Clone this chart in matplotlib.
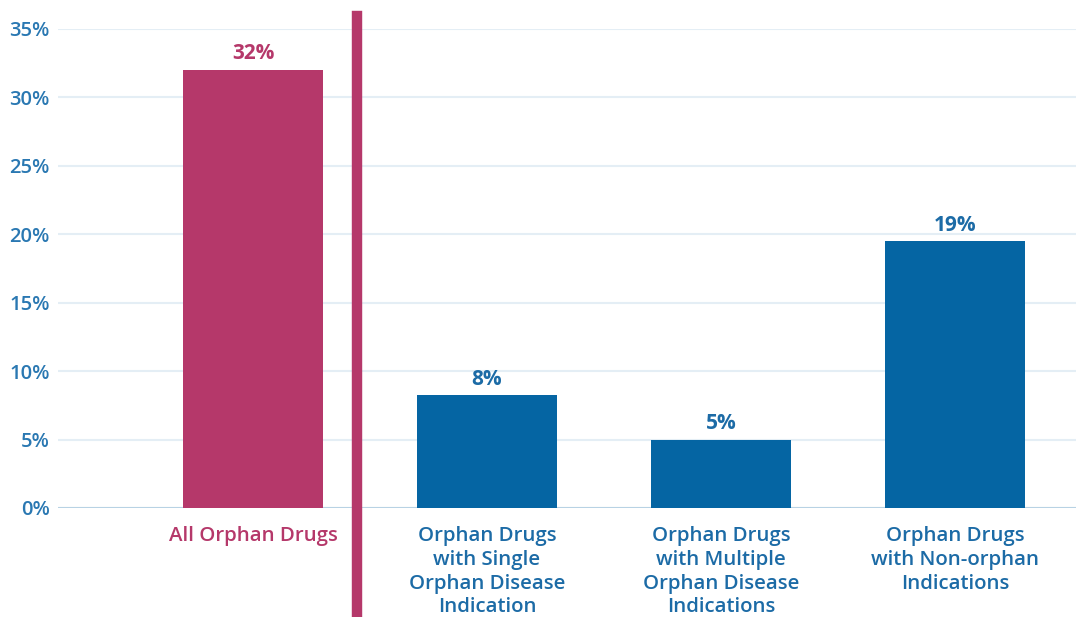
import matplotlib
matplotlib.use("Agg")
import matplotlib.pyplot as plt
import numpy as np

# =====================================================================
# 数据
# =====================================================================

categories = [
    "All Orphan Drugs",
    "Orphan Drugs\nwith Single\nOrphan Disease\nIndication",
    "Orphan Drugs\nwith Multiple\nOrphan Disease\nIndications",
    "Orphan Drugs\nwith Non-orphan\nIndications",
]
values = [32.0, 8.25, 5.0, 19.5]
value_labels = ["32%", "8%", "5%", "19%"]
yticks = [0, 5, 10, 15, 20, 25, 30, 35]
ytick_labels = ["0%", "5%", "10%", "15%", "20%", "25%", "30%", "35%"]

# 颜色
CRIMSON = "#B5386A"
BLUE = "#0565A3"
TEXT_BLUE = "#1C6BA6"
TICK_BLUE = "#2A78B2"
GRID = "#E4EEF5"
BASE = "#B8D2E4"

plt.rcParams["font.family"] = ["Open Sans", "DejaVu Sans"]

fig = plt.figure(figsize=(10.76, 6.17), dpi=100)
ax = fig.add_axes([0.054, 0.1767, 0.946, 0.7763])

x = np.arange(len(categories))
bar_colors = [CRIMSON] + [BLUE] * (len(categories) - 1)
text_colors = [CRIMSON] + [TEXT_BLUE] * (len(categories) - 1)
ax.bar(x, values, width=0.6, color=bar_colors, zorder=3)

# 数值标签
for xi, v, lab, c in zip(x, values, value_labels, text_colors):
    ax.annotate(lab, (xi, v), xytext=(0, 4), textcoords="offset points",
                ha="center", va="bottom", fontsize=15, fontweight="bold",
                color=c)

# 分类标签
for xi, lab, c in zip(x, categories, text_colors):
    ax.annotate(lab, (xi, 0), xytext=(0, -13), textcoords="offset points",
                ha="center", va="top", fontsize=14.7, fontweight="semibold",
                color=c, linespacing=1.25, annotation_clip=False)

# 分隔线
ax.axvline(0.445, ymin=-0.25, ymax=1.028, color=CRIMSON, linewidth=7.5,
           clip_on=False, zorder=4)

ax.set_xlim(-0.833, 3.517)
ax.set_ylim(0, 35)
ax.set_yticks(yticks)
ax.set_yticklabels(ytick_labels, fontsize=14.5, fontweight="semibold", color=TICK_BLUE)
ax.set_xticks([])
ax.tick_params(axis="y", length=0, pad=6)

ax.grid(axis="y", color=GRID, linewidth=1.5, zorder=0)
ax.axhline(0, color=BASE, linewidth=1.5, zorder=2)
for s in ax.spines.values():
    s.set_visible(False)

fig.savefig("out.png", dpi=100)
